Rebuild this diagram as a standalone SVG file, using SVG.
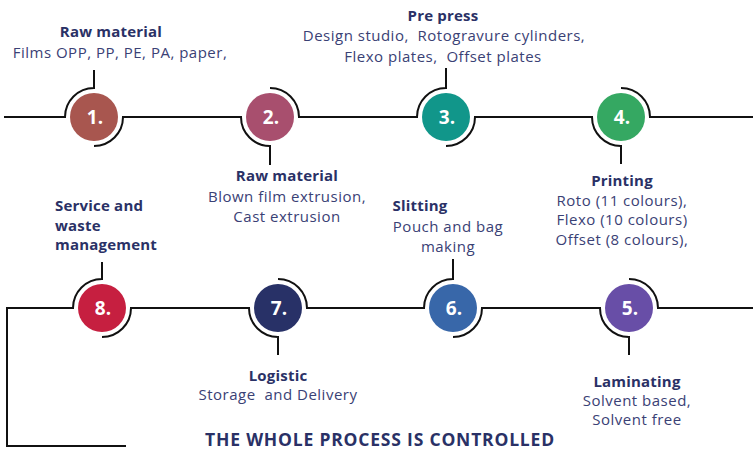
<svg xmlns="http://www.w3.org/2000/svg" width="753" height="457" viewBox="0 0 753 457">
<style>
.ln{fill:none;stroke:#111;stroke-width:2}
.num{font-family:"Open Sans","Liberation Sans",sans-serif;font-weight:700;font-size:19px;fill:#fff;text-anchor:middle}
.t{font-family:"Open Sans","Liberation Sans",sans-serif;font-weight:700;font-size:15px;letter-spacing:0.2px;fill:#2a3166;text-anchor:middle}
.b{font-family:"Open Sans","Liberation Sans",sans-serif;font-weight:400;font-size:15px;letter-spacing:0.5px;fill:#3a4175;text-anchor:middle;white-space:pre}
.l{text-anchor:start}
</style>
<rect width="753" height="457" fill="#fff"/>
<g id="connectors">
<path class="ln" d="M4,117 H65 A29,29 0 0 1 94,88 V70"/>
<path class="ln" d="M94,146 A29,29 0 0 0 123,117 H241 A29,29 0 0 0 270,146 V165"/>
<path class="ln" d="M270,88 A29,29 0 0 1 299,117 H417 A29,29 0 0 1 446,88 V68"/>
<path class="ln" d="M446,146 A29,29 0 0 0 475,117 H592 A29,29 0 0 0 621,146 V164"/>
<path class="ln" d="M621,88 A29,29 0 0 1 650,117 H753"/>
<path class="ln" d="M126,446 H7 V308 H73 A29,29 0 0 1 102,279 V262"/>
<path class="ln" d="M102,337 A29,29 0 0 0 131,308 H249 A29,29 0 0 0 278,337 V355"/>
<path class="ln" d="M278,279 A29,29 0 0 1 307,308 H424 A29,29 0 0 1 453,279 V259"/>
<path class="ln" d="M453,337 A29,29 0 0 0 482,308 H600 A29,29 0 0 0 629,337 V355"/>
<path class="ln" d="M629,279 A29,29 0 0 1 658,308 H753"/>
</g>
<g id="node1">
<circle cx="94" cy="117" r="24" fill="#a8564f"/>
<text class="num" x="95" y="124">1.</text>
<text class="t" x="111" y="37">Raw material</text>
<text class="b" x="120" y="58">Films OPP, PP, PE, PA, paper,</text>
</g>
<g id="node2">
<circle cx="270" cy="117" r="24" fill="#a84f6e"/>
<text class="num" x="271" y="124">2.</text>
<text class="t" x="287" y="181">Raw material</text>
<text class="b" x="287" y="202">Blown film extrusion,</text>
<text class="b" x="287" y="222">Cast extrusion</text>
</g>
<g id="node3">
<circle cx="446" cy="117" r="24" fill="#11968a"/>
<text class="num" x="447" y="124">3.</text>
<text class="t" x="443" y="21">Pre press</text>
<text class="b" x="444" y="41">Design studio,  Rotogravure cylinders,</text>
<text class="b" x="443" y="62">Flexo plates,  Offset plates</text>
</g>
<g id="node4">
<circle cx="621" cy="117" r="24" fill="#35a862"/>
<text class="num" x="622" y="124">4.</text>
<text class="t" x="622" y="186">Printing</text>
<text class="b" x="622" y="206">Roto (11 colours),</text>
<text class="b" x="622" y="225">Flexo (10 colours)</text>
<text class="b" x="622" y="245">Offset (8 colours),</text>
</g>
<g id="node5">
<circle cx="629" cy="308" r="24" fill="#684ea7"/>
<text class="num" x="630" y="315">5.</text>
<text class="t" x="637" y="387">Laminating</text>
<text class="b" x="637" y="406">Solvent based,</text>
<text class="b" x="637" y="425">Solvent free</text>
</g>
<g id="node6">
<circle cx="453" cy="308" r="24" fill="#3867a9"/>
<text class="num" x="454" y="315">6.</text>
<text class="t" x="420" y="211">Slitting</text>
<text class="b" x="448" y="232">Pouch and bag</text>
<text class="b" x="448" y="252">making</text>
</g>
<g id="node7">
<circle cx="278" cy="308" r="24" fill="#283167"/>
<text class="num" x="279" y="315">7.</text>
<text class="t" x="278" y="381">Logistic</text>
<text class="b" x="278" y="400">Storage  and Delivery</text>
</g>
<g id="node8">
<circle cx="102" cy="308" r="24" fill="#c61f40"/>
<text class="num" x="103" y="315">8.</text>
<text class="t l" x="55" y="211">Service and</text>
<text class="t l" x="55" y="230.5">waste</text>
<text class="t l" x="55" y="250">management</text>
</g>
<g id="footer">
<text class="t" x="380" y="446" style="font-size:17.5px;letter-spacing:0.8px">THE WHOLE PROCESS IS CONTROLLED</text>
</g>
</svg>
